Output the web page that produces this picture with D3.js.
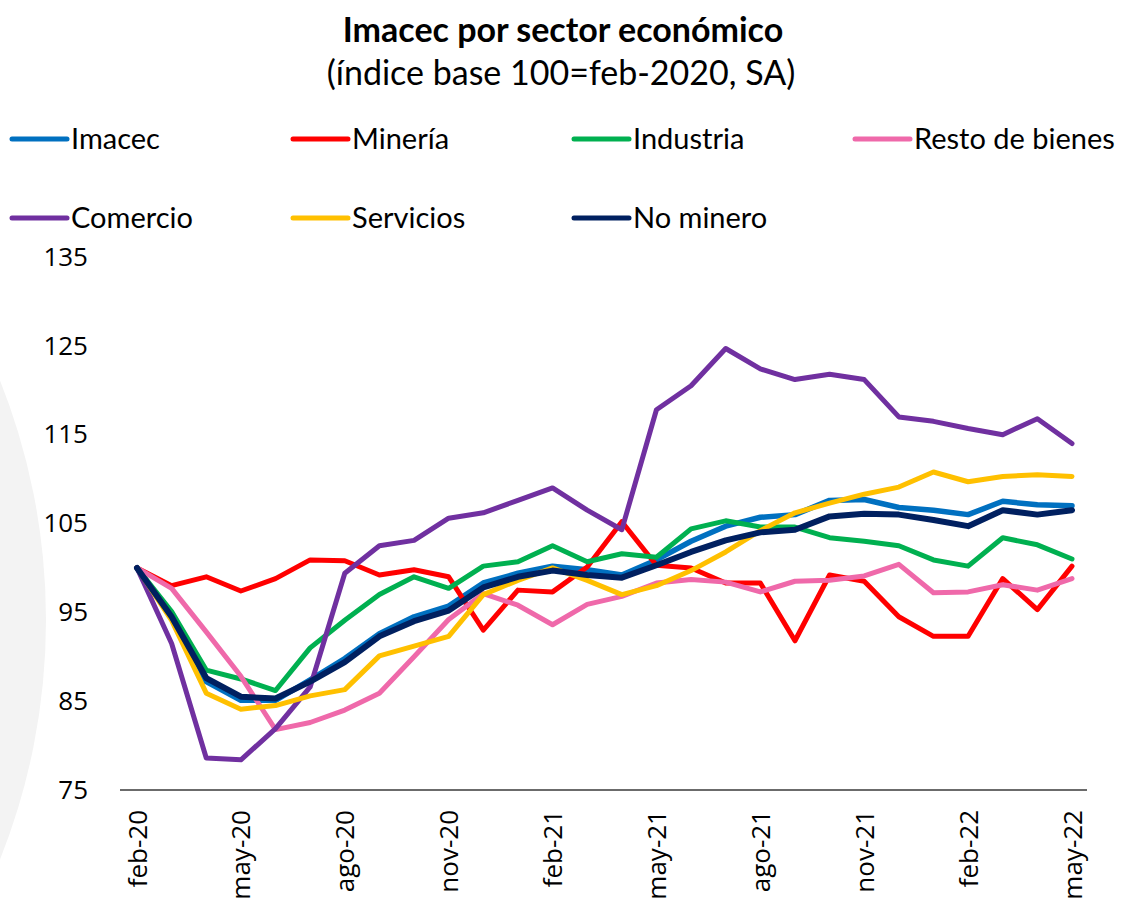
<!DOCTYPE html>
<html>
<head>
<meta charset="utf-8">
<script src="https://cdn.jsdelivr.net/npm/d3@7"></script>
<style>
  body { margin: 0; background: #fff; }
  svg { display: block; }
</style>
</head>
<body>
<div id="chart"></div>
<script>
const months = ["feb-20","mar-20","abr-20","may-20","jun-20","jul-20","ago-20","sep-20","oct-20","nov-20","dic-20","ene-21",
  "feb-21","mar-21","abr-21","may-21","jun-21","jul-21","ago-21","sep-21","oct-21","nov-21","dic-21","ene-22",
  "feb-22","mar-22","abr-22","may-22"]

const imacec = [100,94.5,87.2,85.1,85.1,87.4,89.8,92.6,94.5,95.7,98.3,99.4,100.2,99.8,99.2,100.9,103.0,104.7,105.7,106.0,107.6,107.7,106.8,106.5,106.0,107.5,107.1,107.0]
const mineria = [100,98.0,99.0,97.4,98.8,100.9,100.8,99.2,99.8,99.0,93.0,97.5,97.3,100.1,105.2,100.3,100.0,98.3,98.3,91.8,99.2,98.5,94.5,92.3,92.3,98.8,95.3,100.2]
const industria = [100,95.1,88.5,87.5,86.2,91.0,94.1,97.0,99.0,97.7,100.2,100.7,102.5,100.7,101.6,101.2,104.4,105.3,104.6,104.6,103.4,103.0,102.5,100.9,100.2,103.4,102.6,101.0]
const restoBienes = [100,97.7,92.8,87.8,81.8,82.6,84.0,85.9,90.0,94.2,97.1,95.8,93.6,95.9,96.8,98.3,98.7,98.4,97.3,98.5,98.6,99.1,100.4,97.2,97.3,98.1,97.5,98.8]
const comercio = [100,91.5,78.6,78.4,81.9,86.6,99.4,102.5,103.1,105.6,106.2,107.6,109.0,106.5,104.3,117.8,120.5,124.7,122.4,121.2,121.8,121.2,117.0,116.5,115.7,115.0,116.8,114.0]
const servicios = [100,94.1,85.9,84.1,84.5,85.6,86.3,90.1,91.2,92.3,97.0,98.6,100.0,98.6,97.0,98.0,99.7,101.8,104.2,106.2,107.3,108.3,109.1,110.8,109.7,110.3,110.5,110.3]
const noMinero = [100,94.5,87.6,85.5,85.3,87.2,89.4,92.3,94.0,95.2,97.8,99.0,99.7,99.2,98.9,100.3,101.8,103.1,104.0,104.3,105.8,106.1,106.0,105.4,104.7,106.5,106.0,106.5]

const yTicks = [75,85,95,105,115,125,135]

const series = [
  {name: "Imacec", values: imacec, color: "#0070C0", width: 5.5},
  {name: "Minería", values: mineria, color: "#FF0000", width: 5},
  {name: "Industria", values: industria, color: "#00B050", width: 5},
  {name: "Resto de bienes", values: restoBienes, color: "#EF69AA", width: 5},
  {name: "Comercio", values: comercio, color: "#7030A0", width: 5},
  {name: "Servicios", values: servicios, color: "#FFC000", width: 5},
  {name: "No minero", values: noMinero, color: "#002060", width: 6}
]

const width = 1124
const height = 906

const svg = d3.select("#chart")
  .append("svg")
  .attr("width", width)
  .attr("height", height)

// faint background disc on the left edge
svg.append("circle")
  .attr("cx", -601)
  .attr("cy", 620)
  .attr("r", 647)
  .attr("fill", "#f3f3f3")

// title
svg.append("text")
  .attr("x", 563)
  .attr("y", 42)
  .attr("text-anchor", "middle")
  .style("font-family", "Lato, 'Open Sans', sans-serif")
  .style("font-weight", "bold")
  .style("font-size", "34px")
  .attr("fill", "#000")
  .text("Imacec por sector económico")

svg.append("text")
  .attr("x", 561)
  .attr("y", 85)
  .attr("text-anchor", "middle")
  .style("font-family", "Lato, 'Open Sans', sans-serif")
  .style("font-size", "34px")
  .attr("fill", "#000")
  .text("(índice base 100=feb-2020, SA)")

const x = d3.scalePoint()
  .domain(months)
  .range([137, 1072])

const y = d3.scaleLinear()
  .domain([75, 135])
  .range([790, 257])

// y axis (labels only)
const yAxis = svg.append("g")
  .attr("transform", "translate(92,0)")
  .call(d3.axisLeft(y).tickValues(yTicks).tickSize(0).tickPadding(4))
yAxis.select(".domain").remove()
yAxis.selectAll("text")
  .style("font-family", "'Open Sans', sans-serif")
  .style("font-size", "26px")
  .attr("fill", "#000")

// x axis
const xAxis = svg.append("g")
  .attr("transform", "translate(0,790)")
  .call(d3.axisBottom(x)
    .tickValues(months.filter((m, i) => i % 3 === 0))
    .tickSize(0))
xAxis.select(".domain")
  .attr("d", "M120,0H1087")
  .attr("stroke", "#3a3a3a")
  .attr("stroke-width", 1.6)
xAxis.selectAll("text")
  .style("font-family", "'Open Sans', sans-serif")
  .style("font-size", "26px")
  .attr("fill", "#000")
  .attr("text-anchor", "end")
  .attr("dy", "0.35em")
  .attr("transform", "translate(0,20) rotate(-90)")
  .attr("x", 0)
  .attr("y", 0)

// lines
const line = d3.line()
  .x((d, i) => x(months[i]))
  .y(d => y(d))

svg.append("g")
  .selectAll("path")
  .data(series)
  .enter()
  .append("path")
  .attr("d", d => line(d.values))
  .attr("fill", "none")
  .attr("stroke", d => d.color)
  .attr("stroke-width", d => d.width)
  .attr("stroke-linejoin", "round")
  .attr("stroke-linecap", "round")

// legend
const legend = svg.append("g")
  .selectAll("g")
  .data(series)
  .enter()
  .append("g")
  .attr("transform", (d, i) => `translate(${12 + (i % 4) * 281},${i < 4 ? 139 : 218})`)

legend.append("line")
  .attr("x1", 0)
  .attr("x2", 55)
  .attr("stroke", d => d.color)
  .attr("stroke-width", 5)
  .attr("stroke-linecap", "round")

legend.append("text")
  .attr("x", 59)
  .attr("dy", "0.35em")
  .style("font-family", "Lato, 'Open Sans', sans-serif")
  .style("font-size", "29px")
  .attr("fill", "#000")
  .text(d => d.name)
</script>
</body>
</html>
